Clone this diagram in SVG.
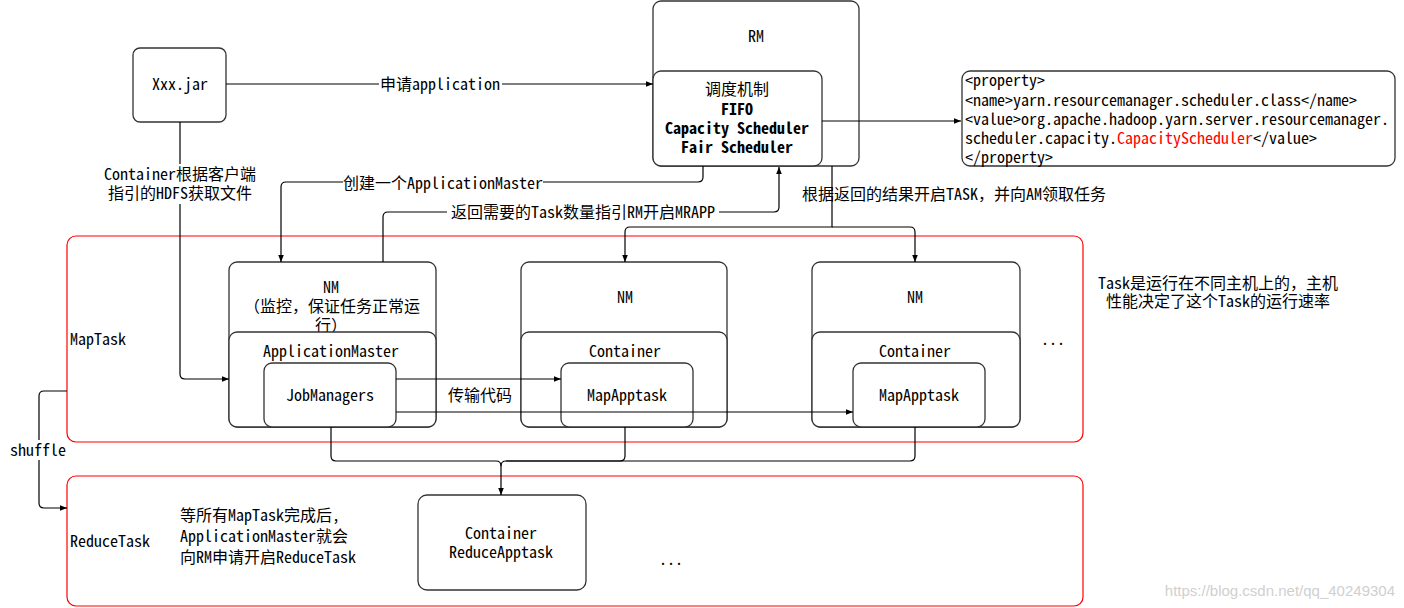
<svg xmlns="http://www.w3.org/2000/svg" width="1404" height="608" viewBox="0 0 1404 608">
<defs>
<marker id="ah" viewBox="0 0 10 10" refX="10" refY="5" markerWidth="7" markerHeight="7" markerUnits="userSpaceOnUse" orient="auto">
<path d="M0,1 L10,5 L0,9 Z" fill="#000"/>
</marker>
<style>
text{font-family:"Noto Sans Mono CJK SC","Liberation Mono","Noto Sans CJK SC",monospace;font-size:16px;fill:#000;}
.c{text-anchor:middle;}
.b{font-weight:bold;}
.box{fill:#fff;stroke:#333;stroke-width:1.3;}
.red{fill:none;stroke:#ff0000;stroke-width:1.2;}
.ln{fill:none;stroke:#000;stroke-width:1.2;}
.lb{fill:#fff;stroke:none;}
.wm{font-family:"Liberation Sans",sans-serif;font-size:15px;fill:#d0d0d0;}
</style>
</defs>
<rect width="1404" height="608" fill="#fff"/>

<g id="maptask-area">
<rect class="red" x="67" y="236" width="1016" height="206" rx="9"/>
<text x="70" y="345">MapTask</text>
</g>
<g id="reducetask-area">
<rect class="red" x="67" y="476" width="1016" height="130" rx="9"/>
<text x="70" y="547">ReduceTask</text>
</g>

<g id="jar">
<rect class="box" x="133" y="48" width="93" height="74" rx="7"/>
<text class="c" x="180" y="90">Xxx.jar</text>
</g>

<g id="rm">
<rect class="box" x="653" y="1" width="206" height="165" rx="8"/>
<text class="c" x="756" y="42">RM</text>
</g>
<g id="scheduler">
<rect class="box" x="653" y="71" width="169" height="95" rx="8"/>
<text class="c" x="737" y="95">调度机制</text>
<text class="c b" x="737" y="115">FIFO</text>
<text class="c b" x="737" y="134">Capacity Scheduler</text>
<text class="c b" x="737" y="153">Fair Scheduler</text>
</g>

<g id="property">
<rect class="box" x="962" y="71" width="433" height="95" rx="8"/>
<text x="965" y="86">&lt;property&gt;</text>
<text x="965" y="106">&lt;name&gt;yarn.resourcemanager.scheduler.class&lt;/name&gt;</text>
<text x="965" y="125">&lt;value&gt;org.apache.hadoop.yarn.server.resourcemanager.</text>
<text x="965" y="144">scheduler.capacity.<tspan fill="#ff0000">CapacityScheduler</tspan>&lt;/value&gt;</text>
<text x="965" y="163">&lt;/property&gt;</text>
</g>

<g id="nm1">
<rect class="box" x="229" y="262" width="207" height="165" rx="8"/>
<text class="c" x="331" y="293">NM</text>
<text class="c" x="332" y="312">（监控，保证任务正常运</text>
<text class="c" x="331" y="331">行）</text>
</g>
<g id="am">
<rect class="box" x="229" y="332" width="207" height="95" rx="8"/>
<text class="c" x="331" y="357">ApplicationMaster</text>
</g>
<g id="jobmanagers">
<rect class="box" x="264" y="363" width="132" height="64" rx="8"/>
<text class="c" x="330" y="401">JobManagers</text>
</g>

<g id="nm2">
<rect class="box" x="521" y="262" width="206" height="165" rx="8"/>
<text class="c" x="625" y="303">NM</text>
</g>
<g id="container2">
<rect class="box" x="521" y="332" width="206" height="95" rx="8"/>
<text class="c" x="625" y="357">Container</text>
</g>
<g id="mapapptask2">
<rect class="box" x="561" y="363" width="132" height="64" rx="8"/>
<text class="c" x="627" y="401">MapApptask</text>
</g>

<g id="nm3">
<rect class="box" x="812" y="262" width="208" height="165" rx="8"/>
<text class="c" x="915" y="303">NM</text>
</g>
<g id="container3">
<rect class="box" x="812" y="332" width="208" height="95" rx="8"/>
<text class="c" x="915" y="357">Container</text>
</g>
<g id="mapapptask3">
<rect class="box" x="853" y="363" width="132" height="64" rx="8"/>
<text class="c" x="919" y="401">MapApptask</text>
</g>

<g id="more-nm">
<text class="c" x="1053" y="345">...</text>
</g>

<g id="note-task">
<text class="c" x="1218" y="289">Task是运行在不同主机上的，主机</text>
<text class="c" x="1218" y="307">性能决定了这个Task的运行速率</text>
</g>

<g id="note-reduce">
<text x="180" y="521">等所有MapTask完成后,</text>
<text x="180" y="542">ApplicationMaster就会</text>
<text x="180" y="563">向RM申请开启ReduceTask</text>
</g>

<g id="reduce-container">
<rect class="box" x="418" y="495" width="168" height="95" rx="9"/>
<text class="c" x="501" y="539">Container</text>
<text class="c" x="501" y="558">ReduceApptask</text>
</g>

<g id="more-reduce">
<text class="c" x="671" y="565">...</text>
</g>

<g id="connectors">
<!-- jar -> RM -->
<path class="ln" d="M226,84 H653" marker-end="url(#ah)"/>
<rect class="lb" x="379" y="74" width="123" height="20"/>
<text class="c" x="440" y="90">申请application</text>
<!-- scheduler -> property -->
<path class="ln" d="M822,121 H961" marker-end="url(#ah)"/>
<!-- create AM -->
<path class="ln" d="M703,166 V177 Q703,182 698,182 H286 Q281,182 281,187 V262" marker-end="url(#ah)"/>
<rect class="lb" x="343" y="173" width="200" height="20"/>
<text class="c" x="443" y="189">创建一个ApplicationMaster</text>
<!-- return to RM -->
<path class="ln" d="M383,262 V217 Q383,212 388,212 H774 Q779,212 779,207 V167" marker-end="url(#ah)"/>
<rect class="lb" x="447" y="202" width="272" height="20"/>
<text class="c" x="583" y="218">返回需要的Task数量指引RM开启MRAPP</text>
<!-- RM -> NMs -->
<path class="ln" d="M832,166 V227 H630 Q625,227 625,232 V262" marker-end="url(#ah)"/>
<path class="ln" d="M832,227 H910 Q915,227 915,232 V262" marker-end="url(#ah)"/>
<text x="802" y="200">根据返回的结果开启TASK，并向AM领取任务</text>
<!-- jar -> AM -->
<path class="ln" d="M180,122 V374 Q180,379 185,379 H229" marker-end="url(#ah)"/>
<rect class="lb" x="100" y="164" width="160" height="40"/>
<text class="c" x="180" y="180">Container根据客户端</text>
<text class="c" x="180" y="199">指引的HDFS获取文件</text>
<!-- JobManagers -> MapApptasks -->
<path class="ln" d="M396,379 H561" marker-end="url(#ah)"/>
<path class="ln" d="M396,412 H853" marker-end="url(#ah)"/>
<text class="c" x="480" y="401">传输代码</text>
<!-- map outputs -> reduce -->
<path class="ln" d="M331,427 V456 Q331,461 336,461 H496 Q501,461 501,466 V495" marker-end="url(#ah)"/>
<path class="ln" d="M625,427 V456 Q625,461 620,461 H506 Q501,461 501,466"/>
<path class="ln" d="M915,427 V456 Q915,461 910,461 H506"/>
<!-- shuffle -->
<path class="ln" d="M67,391 H44 Q39,391 39,396 V503 Q39,508 44,508 H67" marker-end="url(#ah)"/>
<rect class="lb" x="8" y="440" width="62" height="20"/>
<text class="c" x="38" y="456">shuffle</text>
</g>

<text class="wm" x="1395" y="596" text-anchor="end">https://blog.csdn.net/qq_40249304</text>
</svg>
